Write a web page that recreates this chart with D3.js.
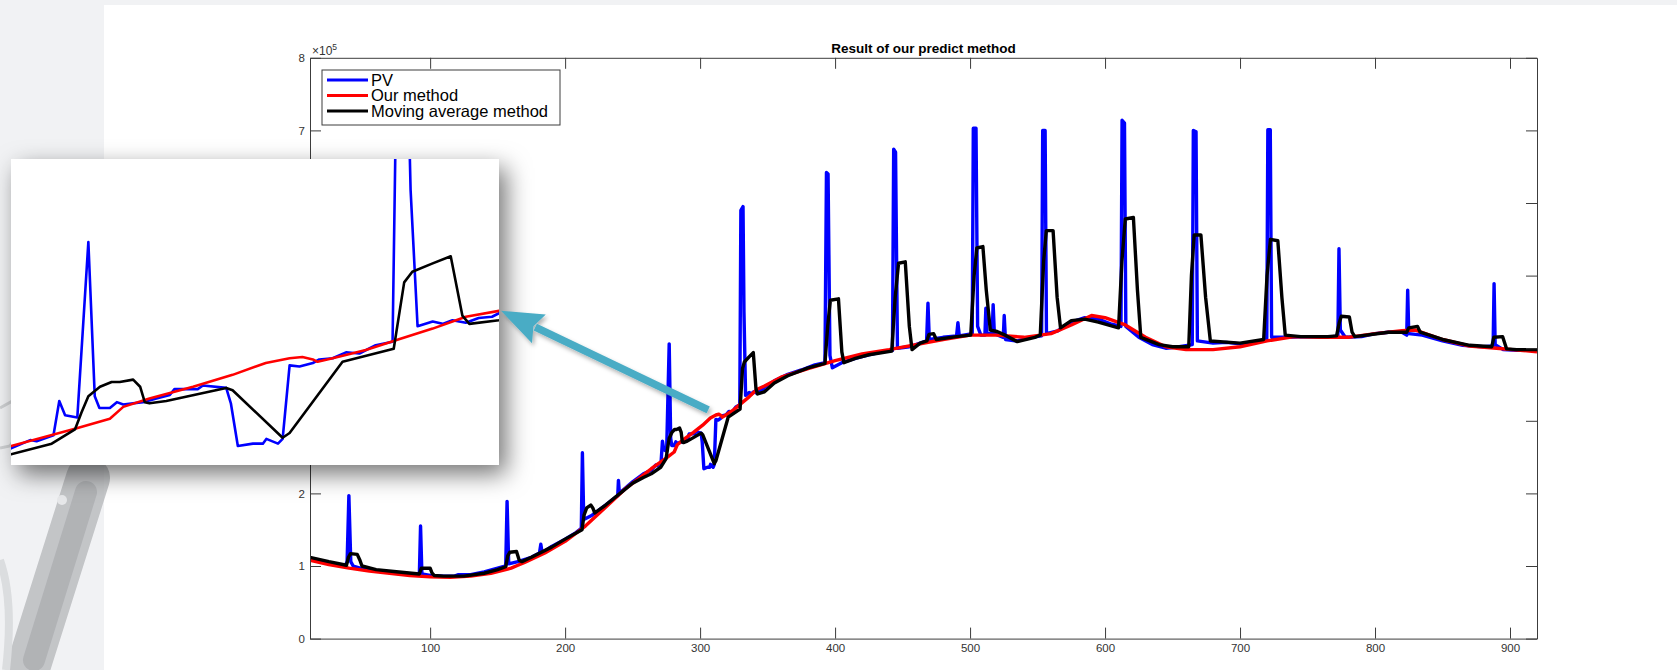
<!DOCTYPE html>
<html>
<head>
<meta charset="utf-8">
<script src="https://cdn.jsdelivr.net/npm/d3@7"></script>
<style>
  body { margin: 0; background: #ffffff; }
  svg { display: block; font-family: "Liberation Sans", Arial, sans-serif; }
</style>
</head>
<body>
<script>
// values are in units of 10^5
var pvPoints = [
  [11,1.10],[20,1.06],[30,1.02],[37,1.00],[38.5,1.06],[39.8,1.97],[41.2,1.06],[43,1.00],[50,0.96],
  [60,0.93],[70,0.91],[80,0.89],[92,0.88],[92.9,1.55],[93.9,0.89],[100,0.87],[110,0.86],[118,0.86],
  [121,0.88],[130,0.88],[140,0.92],[150,0.97],[156,1.00],[157,1.89],[158.2,1.03],[165,1.06],[175,1.12],
  [181,1.18],[182,1.30],[183,1.18],[190,1.27],[200,1.37],[208,1.46],[212,1.52],[212.8,2.56],[213.8,1.64],
  [220,1.70],[230,1.84],[239,1.97],[239.5,2.18],[240.2,2.00],[250,2.16],[258,2.27],
  [263.8,2.32],[267.1,2.39],[268.2,2.38],[271.1,2.43],[272.1,2.72],[273.1,2.60],[275.2,2.58],[277.1,4.06],
  [278.2,2.76],[279.0,2.66],[280.8,2.66],[282.0,2.71],[283.1,2.69],[286.5,2.71],[288.8,2.74],[291.1,2.77],
  [291.9,2.82],[295.9,2.82],[296.8,2.85],[300.8,2.83],[301.6,2.70],[302.8,2.34],[305.4,2.36],[307.1,2.36],
  [307.7,2.40],[309.7,2.36],[310.5,2.40],[311.7,3.02],[313.4,3.01],[315.7,3.04],[316.8,3.07],[319.1,3.08],
  [321.4,3.13],[323.7,3.12],[326.5,3.19],[329.4,3.22],[330.2,5.90],[331.8,5.95],[332.5,4.50],[333.7,3.35],
  [336.3,3.39],[338.0,3.37],[339.7,3.40],[342.0,3.38],[344.2,3.42],[346.5,3.43],[347.7,3.46],
  [355,3.55],[365,3.64],[375,3.70],[385,3.77],[392.5,3.80],[393.6,6.42],[394.8,6.40],[396.2,3.90],
  [398,3.73],[405,3.80],[415,3.86],[425,3.91],[435,3.95],[442.5,3.97],[443.4,6.74],[444.8,6.70],
  [446.2,4.00],[455,4.02],[463,4.07],[467.8,4.10],[468.8,4.62],[469.8,4.12],[480,4.15],[490,4.17],
  [491,4.35],[492,4.17],[501.6,4.20],[502.4,7.03],[504.4,7.03],[505.6,4.30],[508,4.18],[511,4.18],
  [511.7,4.55],[512.5,4.20],[516.4,4.20],[517.1,4.60],[518,4.20],[524.6,4.15],[525.3,4.45],[526.2,4.12],
  [535,4.10],[545,4.15],[553,4.17],[553.8,7.00],[555.6,7.00],[556.6,4.20],[565,4.24],[575,4.36],
  [585,4.42],[595,4.40],[605,4.33],[611.8,4.30],[612.6,7.14],[614.4,7.10],[615.4,4.30],[625,4.15],
  [635,4.05],[645,4.00],[655,4.02],[664.6,4.05],[665.4,7.00],[667.4,6.98],[668.4,4.10],[680,4.07],
  [690,4.08],[700,4.06],[710,4.08],[719.8,4.12],[720.6,7.01],[722.4,7.01],[723.4,4.15],[735,4.15],
  [750,4.16],[765,4.15],[772.5,4.17],[773.3,5.37],[774.3,4.25],[778,4.15],[790,4.16],[800,4.20],
  [810,4.22],[820,4.22],[823.5,4.18],[824.2,4.80],[825,4.20],[835,4.18],[850,4.10],[865,4.04],
  [880,4.02],[887.5,4.03],[888.2,4.89],[889,4.05],[895,3.98],[905,3.97],[920,3.97]
];

var ourPoints = [
  [11,1.08],[25,1.02],[40,0.97],[55,0.93],[70,0.90],[85,0.87],[100,0.85],[115,0.845],[130,0.86],
  [145,0.90],[160,0.97],[165,1.01],[170,1.05],[185,1.18],[200,1.34],[215,1.55],[230,1.81],[245,2.07],
  [255,2.21],[263.8,2.34],[275.1,2.49],[280.8,2.57],[283.1,2.67],[287.6,2.74],[295.1,2.84],[301.9,2.94],
  [307.6,3.04],[311.7,3.08],[313.9,3.09],[315.7,3.07],[316.5,3.05],[319.1,3.08],[324.8,3.15],[330.5,3.24],
  [336.3,3.33],[342.0,3.43],[347.7,3.48],[360,3.60],[380,3.72],[400,3.83],[420,3.92],[440,3.98],
  [460,4.05],[480,4.12],[500,4.18],[520,4.18],[540,4.15],[560,4.20],[575,4.32],[590,4.45],[600,4.42],
  [615,4.32],[630,4.15],[645,4.02],[660,3.98],[680,3.98],[700,4.02],[720,4.10],[740,4.16],[760,4.15],
  [780,4.15],[800,4.20],[820,4.24],[830,4.25],[850,4.12],[870,4.03],[890,4.00],[920,3.95]
];

var maPoints = [
  [11,1.12],[25,1.06],[38,1.01],[39.5,1.12],[41,1.17],[46,1.16],[48,1.08],[49.5,1.00],[60,0.95],
  [75,0.92],[92,0.89],[93.5,0.97],[100,0.97],[101.5,0.90],[103,0.87],[110,0.86],[125,0.86],[140,0.90],
  [150,0.95],[156,0.99],[157.5,1.14],[159,1.19],[164,1.20],[166,1.08],[168,1.06],[175,1.12],[190,1.26],
  [200,1.37],[212.5,1.50],[214,1.70],[216,1.80],[219,1.84],[220.5,1.80],[222,1.73],[230,1.84],[240,1.99],
  [250,2.14],[258,2.22],[263.8,2.27],[270.8,2.36],[274.8,2.48],[275.9,2.62],[277.1,2.76],[279.1,2.84],
  [281.1,2.88],[282.5,2.88],[284.8,2.90],[286.0,2.84],[286.8,2.71],[287.6,2.70],[290.5,2.72],[300.8,2.83],
  [301.9,2.81],[310.5,2.41],[311.7,2.45],[320.8,3.05],[329.6,3.16],[331.4,3.72],[332.8,3.81],[336.3,3.88],
  [339.4,3.94],[341.4,3.44],[342.6,3.37],[347.7,3.40],[355,3.52],[365,3.62],[380,3.73],[392.5,3.79],
  [394.5,4.30],[396.5,4.66],[402.5,4.68],[405,3.95],[406.5,3.80],[415,3.86],[425,3.91],[442,3.96],
  [444.5,4.70],[447,5.17],[452,5.19],[455,4.30],[457,3.98],[463,4.07],[468,4.10],[469.5,4.19],[473,4.20],
  [475,4.12],[490,4.16],[500.5,4.18],[503,5.00],[505,5.38],[509.5,5.40],[512,4.80],[515,4.25],[520,4.23],
  [526,4.18],[535,4.09],[548,4.15],[552,4.18],[554.5,5.20],[556.5,5.62],[561.5,5.62],[564.5,4.70],
  [567,4.28],[575,4.38],[585,4.40],[595,4.36],[610,4.28],[612.5,5.20],[615,5.78],[621,5.80],[624,4.80],
  [626.5,4.15],[640,4.05],[650,4.02],[662,4.02],[664,5.00],[666,5.56],[671,5.56],[674.5,4.70],[678,4.10],
  [700,4.07],[717.5,4.12],[720,5.00],[722.5,5.50],[728,5.48],[731,4.70],[733.5,4.18],[745,4.16],
  [765,4.16],[771.5,4.17],[773.5,4.35],[775,4.44],[781,4.43],[783,4.22],[785,4.16],[810,4.22],
  [823.5,4.22],[825,4.28],[831.5,4.30],[833.5,4.22],[850,4.12],[870,4.04],[886.5,4.02],[888,4.15],
  [894.5,4.16],[897.5,3.99],[905,3.98],[920,3.98]
];

var xTicks = [100, 200, 300, 400, 500, 600, 700, 800, 900];
var yTicks = [0, 1, 2, 3, 4, 5, 6, 7, 8];
var legendNames = ["PV", "Our method", "Moving average method"];
var seriesColors = ["#0000ff", "#ff0000", "#000000"];
var chartTitle = "Result of our predict method";

// zoomed window shown in the inset, and where the arrow starts
var insetXDomain = [263.8, 347.7];
var insetYDomain = [2.18, 4.76];
var arrowFrom = [306, 3.15];
var arrowToValue = 3.48;

var width = 1677;
var height = 670;

var svg = d3.select("body").append("svg")
  .attr("width", width)
  .attr("height", height);

var defs = svg.append("defs");

var boxShadow = defs.append("filter").attr("id", "boxShadow")
  .attr("x", "-20%").attr("y", "-20%").attr("width", "150%").attr("height", "160%");
boxShadow.append("feDropShadow")
  .attr("dx", 7).attr("dy", 9).attr("stdDeviation", 12)
  .attr("flood-color", "#000").attr("flood-opacity", 0.55);

var arrowShadow = defs.append("filter").attr("id", "arrowShadow")
  .attr("x", "-20%").attr("y", "-40%").attr("width", "140%").attr("height", "180%");
arrowShadow.append("feDropShadow")
  .attr("dx", 2).attr("dy", 3).attr("stdDeviation", 2)
  .attr("flood-color", "#000").attr("flood-opacity", 0.3);

//SLIDE BACKGROUND
//-------------------------------
svg.append("rect").attr("width", width).attr("height", height).attr("fill", "#ffffff");
svg.append("rect").attr("x", 0).attr("y", 0).attr("width", 104).attr("height", height).attr("fill", "#f1f2f4");
svg.append("rect").attr("x", 0).attr("y", 0).attr("width", width).attr("height", 5).attr("fill", "#f1f2f4");

// faint robot arm picture on the left edge
var deco = svg.append("g").attr("opacity", 0.75);
deco.append("line").attr("x1", 88).attr("y1", 478).attr("x2", 28).attr("y2", 668)
  .attr("stroke", "#b4b6b9").attr("stroke-width", 44).attr("stroke-linecap", "round");
deco.append("line").attr("x1", 86).attr("y1", 492).attr("x2", 34).attr("y2", 660)
  .attr("stroke", "#9c9ea1").attr("stroke-width", 22).attr("stroke-linecap", "round");
deco.append("circle").attr("cx", 62).attr("cy", 500).attr("r", 5).attr("fill", "#e4e5e7");
deco.append("path").attr("d", "M0,408 L18,398 L26,420 L10,446 L0,448")
  .attr("fill", "none").attr("stroke", "#c4c6c9").attr("stroke-width", 3);
deco.append("path").attr("d", "M0,560 Q14,600 6,670")
  .attr("fill", "none").attr("stroke", "#d4d6d8").attr("stroke-width", 8);

//MAIN AXES
//-------------------------------
var axLeft = 310, axRight = 1537, axTop = 57.8, axBottom = 638.6;

var x = d3.scaleLinear().domain([11, 920]).range([axLeft, axRight]);
var y = d3.scaleLinear().domain([0, 8]).range([axBottom, axTop]);

defs.append("clipPath").attr("id", "mainClip")
  .append("rect").attr("x", axLeft).attr("y", axTop)
  .attr("width", axRight - axLeft).attr("height", axBottom - axTop);

svg.append("rect").attr("x", axLeft).attr("y", axTop)
  .attr("width", axRight - axLeft).attr("height", axBottom - axTop).attr("fill", "#ffffff");

var series = [pvPoints, ourPoints, maPoints];

var mainLine = d3.line()
  .x(function(d) { return x(d[0]); })
  .y(function(d) { return y(d[1]); });

svg.append("g").attr("clip-path", "url(#mainClip)")
  .selectAll("path")
  .data(series)
  .enter().append("path")
  .attr("d", mainLine)
  .attr("fill", "none")
  .attr("stroke", function(d, i) { return seriesColors[i]; })
  .attr("stroke-width", 3.4)
  .attr("stroke-linejoin", "round");

function styleAxis(g) {
  g.selectAll(".domain").attr("stroke", "#3c3c3c");
  g.selectAll(".tick line").attr("stroke", "#3c3c3c");
  g.selectAll("text").attr("fill", "#333333")
    .attr("font-family", "'Liberation Sans', Arial, sans-serif")
    .attr("font-size", "11.5px");
}

svg.append("g").attr("transform", "translate(0," + axBottom + ")")
  .call(d3.axisBottom(x).tickValues(xTicks).tickSize(-11).tickSizeOuter(0).tickPadding(5))
  .call(styleAxis);

svg.append("g").attr("transform", "translate(0," + axTop + ")")
  .call(d3.axisTop(x).tickValues(xTicks).tickSize(-11).tickSizeOuter(0).tickFormat(""))
  .call(styleAxis);

svg.append("g").attr("transform", "translate(" + axLeft + ",0)")
  .call(d3.axisLeft(y).tickValues(yTicks).tickSize(-11).tickSizeOuter(0).tickPadding(5))
  .call(styleAxis);

svg.append("g").attr("transform", "translate(" + axRight + ",0)")
  .call(d3.axisRight(y).tickValues(yTicks).tickSize(-11).tickSizeOuter(0).tickFormat(""))
  .call(styleAxis);

// exponent label
var expo = svg.append("text")
  .attr("x", axLeft + 2).attr("y", axTop - 3)
  .attr("font-size", "12px").attr("fill", "#333333")
  .text("\u00d710");
expo.append("tspan").attr("dy", -5).attr("font-size", "8.5px").text("5");

svg.append("text")
  .attr("x", (axLeft + axRight) / 2).attr("y", 53)
  .attr("text-anchor", "middle")
  .attr("font-weight", "bold")
  .attr("font-size", "13.5px")
  .attr("fill", "#000000")
  .text(chartTitle);

//LEGEND
//-------------------------------
var legend = svg.append("g").attr("transform", "translate(322,70)");
legend.append("rect").attr("width", 238).attr("height", 55)
  .attr("fill", "#ffffff").attr("stroke", "#3c3c3c").attr("stroke-width", 1);

var items = legend.selectAll("g.item")
  .data(legendNames)
  .enter().append("g")
  .attr("class", "item")
  .attr("transform", function(d, i) { return "translate(0," + (10 + i * 15.5) + ")"; });

items.append("line")
  .attr("x1", 5).attr("x2", 46)
  .attr("stroke", function(d, i) { return seriesColors[i]; })
  .attr("stroke-width", 3);

items.append("text")
  .attr("x", 49).attr("dy", "0.36em")
  .attr("font-size", "16.5px").attr("fill", "#000000")
  .text(function(d) { return d; });

//INSET (zoom of the dip near 300)
//-------------------------------
var insetLeft = 11, insetRight = 499, insetTop = 159, insetBottom = 465;

var ix = d3.scaleLinear().domain(insetXDomain).range([insetLeft, insetRight]);
var iy = d3.scaleLinear().domain(insetYDomain).range([insetBottom, insetTop]);

defs.append("clipPath").attr("id", "insetClip")
  .append("rect").attr("x", insetLeft).attr("y", insetTop)
  .attr("width", insetRight - insetLeft).attr("height", insetBottom - insetTop);

svg.append("rect")
  .attr("x", insetLeft).attr("y", insetTop)
  .attr("width", insetRight - insetLeft).attr("height", insetBottom - insetTop)
  .attr("fill", "#ffffff")
  .attr("filter", "url(#boxShadow)");

var insetLine = d3.line()
  .x(function(d) { return ix(d[0]); })
  .y(function(d) { return iy(d[1]); });

svg.append("g").attr("clip-path", "url(#insetClip)")
  .selectAll("path")
  .data(series)
  .enter().append("path")
  .attr("d", insetLine)
  .attr("fill", "none")
  .attr("stroke", function(d, i) { return seriesColors[i]; })
  .attr("stroke-width", 2.6)
  .attr("stroke-linejoin", "round");

//ARROW
//-------------------------------
var tail = [x(arrowFrom[0]), y(arrowFrom[1])];
var tip = [insetRight + 2, iy(arrowToValue)];
var dxA = tip[0] - tail[0], dyA = tip[1] - tail[1];
var len = Math.sqrt(dxA * dxA + dyA * dyA);
var ux = dxA / len, uy = dyA / len;
var headLen = 42, headHalf = 16;
var base = [tip[0] - ux * headLen, tip[1] - uy * headLen];

var arrow = svg.append("g").attr("filter", "url(#arrowShadow)");
arrow.append("line")
  .attr("x1", tail[0]).attr("y1", tail[1])
  .attr("x2", base[0] + ux * 4).attr("y2", base[1] + uy * 4)
  .attr("stroke", "#4aacc5").attr("stroke-width", 7.5);
arrow.append("path")
  .attr("d", "M" + tip[0] + "," + tip[1] +
    "L" + (base[0] - uy * headHalf) + "," + (base[1] + ux * headHalf) +
    "L" + (base[0] + ux * 6) + "," + (base[1] + uy * 6) +
    "L" + (base[0] + uy * headHalf) + "," + (base[1] - ux * headHalf) + "Z")
  .attr("fill", "#4aacc5");
</script>
</body>
</html>
